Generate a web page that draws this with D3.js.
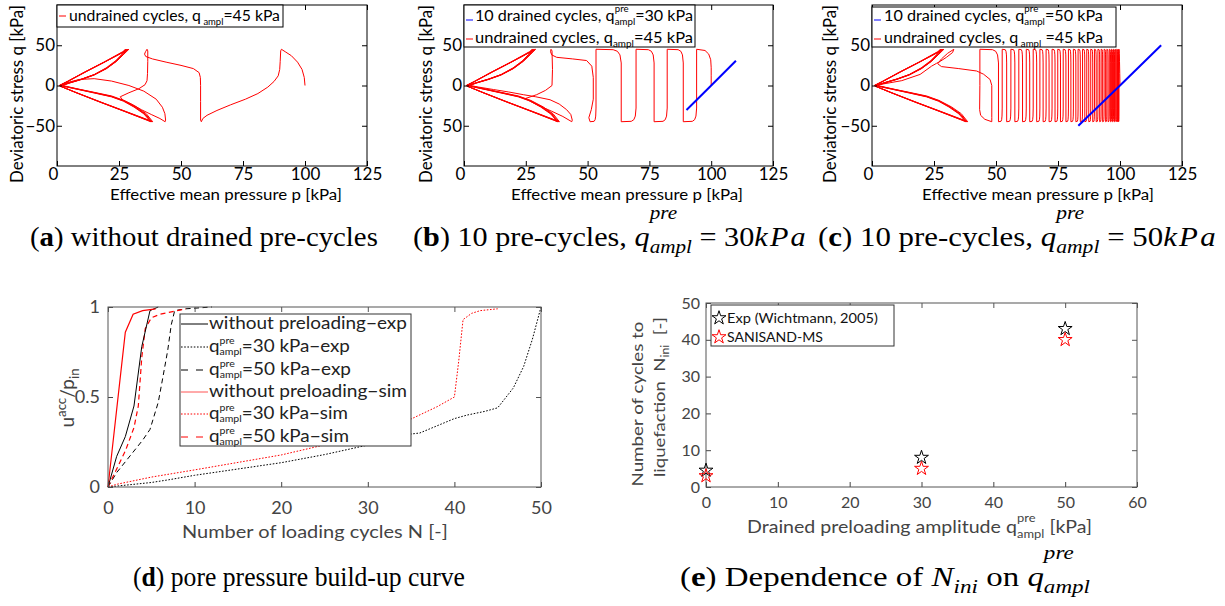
<!DOCTYPE html>
<html><head><meta charset="utf-8">
<script src="https://cdn.jsdelivr.net/npm/d3@7"></script>
<style>body{margin:0;background:#fff}svg{display:block}.serif{font-family:"Liberation Serif","Times New Roman",Times,serif}</style>
</head><body>
<script>
// ================= DATA =================
const pTicks = [0, 25, 50, 75, 100, 125];
const qTicks = [-50, 0, 50];
const qTickLabelsAC = ["\u221250", "0", "50"];
const qTickLabelsB = ["50", "0", "50"];

const pathA = [
  [100,0],[99.7,10],[98.8,20],[97,29],[94.5,37],[92,42],[90.5,45],
  [90.2,43],[90,30],[89.8,20],[89.2,12],[87.5,5],[85,-2],[81,-10],[76,-17],[70,-24],[64.5,-31],[60.5,-37],[58.8,-41],[58.2,-45],
  [57.9,-43],[57.9,-20],[57.9,0],[57.8,10],[57.3,16],[55,21],[50,25],[44,29],[38.5,33],[35.8,36],[35.3,39],[35.7,42],[36.3,45],
  [36.6,43],[36.6,30],[36.5,15],[36.3,6],[35.5,1],[33,-4],[29,-9],[25.5,-14],[26.5,-18],[30,-23],[34,-30],[38,-36],[41.5,-41],[43.6,-45],
  [43.8,-43],[43.5,-35],[42.5,-27],[40,-17],[35,-7],[29,0],[22,5.5],[15,8.5],[9,7.5],[4.5,4],[1.5,0.5]
];
const butterfly = [
  [1.5,0.5],[5,3.5],[10,8],[15,13.5],[20,21.5],[24,30.5],[27,39],[29,45],[27.5,42.5],[20,30.5],[12,17.5],[5,6],[1.5,0.5],
  [8,-4],[15,-8.5],[22,-13],[27,-18.5],[32,-26.5],[36,-35],[38.6,-45],[37,-43],[28,-32.5],[18,-21],[8,-9],[1.5,-1],
  [5,3],[10,7.5],[15,13],[20,21],[24,30],[26.8,38.5],[28.6,45],[27,42],[19.5,29.5],[11.5,17],[4.5,5.5],[1.2,0.3],
  [8,-4.2],[15,-8.8],[22,-13.5],[27,-19],[31.5,-26.5],[35.5,-35],[38.3,-45],[36.7,-43],[27.7,-32.4],[17.7,-20.7],[7.8,-8.9],[1.3,-0.8],
  [5,3.2],[10,7.8],[15,13.2],[20,21.3],[24,30.3],[26.5,38],[28.2,45],[26.8,42],[19.2,29.3],[11.3,16.8],[4.4,5.3],[1.1,0.2],
  [8,-4.4],[15,-9],[22,-13.8],[27,-19.3],[31.2,-26.5],[35.2,-35],[38,-45],[36.4,-43],[27.4,-32.3],[17.4,-20.6],[7.6,-8.8],[1.2,-0.6],
  [5,3.3],[10,7.9],[15,13.4],[20,21.6],[23.8,30.5],[26.2,38],[27.8,45],[26.5,42],[19,29.2],[11.1,16.7],[4.3,5.2],[1,0.1],
  [8,-4.6],[15,-9.3],[22,-14.1],[26.8,-19.5],[31,-26.7],[35,-35.2],[37.8,-45],[36.2,-43],[27.2,-32.2],[17.2,-20.5],[7.5,-8.7],[1.1,-0.5],
  [5,3.4],[10,8],[15,13.6],[19.8,21.8],[23.6,30.6],[26,38.2],[27.5,45]
];
const blueB = [[90,-30.5],[100,0],[110,30.8]];
const startB = [[100,0],[100,12],[100,22],[99.8,32],[99,39],[97.5,43.5],[94.1,45]];
const tipsB = [94.1, 88.7, 82.2, 76.9, 69.6, 63.6, 53.4, 51.0];
const tailB = [
  [51,-45],[50.5,-40],[51.5,-30],[52.3,-17],[52.3,10],[51.7,24],[49.6,31],[44,33],[37.5,35],[35.5,38],[35,42],[35.2,45],
  [35.6,43],[35.8,20],[35.6,0],[33,-6],[29.4,-11.4],[25,-16],[27,-20],[31,-26],[35.5,-32],[40,-38.5],[43.6,-45],
  [43.8,-43],[43.2,-36],[41.5,-30],[38.5,-23],[34.8,-17.7],[29,-14],[24,-11.4],[18,-8],[11.9,-5],[6,-2],[1.5,0.5]
];
const blueC = [[83.2,-50],[100,0],[116.6,50]];
const startC = [[100,0],[99.9,15],[99.8,30],[99.7,40],[99.6,45]];
const tipsC = [99.6, 99.4, 99.2, 99.0, 98.7, 98.4, 98.1, 97.8, 97.4, 97.0, 96.6, 96.2, 95.7, 95.2, 94.7, 94.2,
  93.6, 93.0, 92.4, 91.8, 91.1, 90.4, 89.7, 89.0, 88.2, 87.4, 86.6, 85.8, 84.9, 84.0, 83.1, 82.2, 81.2, 80.2,
  79.2, 78.2, 77.1, 76.0, 74.9, 73.8, 72.6, 71.4, 70.2, 69.0, 67.7, 66.4, 65.0, 63.6, 62.2, 60.7, 59.2, 57.6,
  56.0, 54.3, 52.5, 51.0, 43.5];
const tailC = [
  [43.5,45],[43.5,0],[43.4,-30],[43.8,-37],[45.5,-42],[48.3,-45],
  [48.3,-40],[48.3,0],[47.6,7.5],[45,14],[42.2,18],[35,21],[28,23.5],[26.5,27],[28,33],[30.5,40],[33,45],[32.5,41],[30,35],[27.5,30],[26,27.5],
  [24,24],[19.4,13.8],[12,6],[3.2,1.2],[1.5,0.5]
];
const N_woExp = [0, 1, 2, 3, 3.9, 4.85, 5.8];
const U_woExp = [0, 0.17, 0.28, 0.45, 0.78, 0.98, 1.0];
const N_30Exp = [0, 2, 5, 7, 10, 15, 20, 25, 30, 33, 36, 40, 41.5, 43.5, 45, 46.8, 48, 49, 50];
const U_30Exp = [0, 0.01, 0.025, 0.04, 0.065, 0.1, 0.135, 0.18, 0.233, 0.283, 0.30, 0.38, 0.40, 0.42, 0.44, 0.55, 0.67, 0.82, 1.0];
const N_50Exp = [0, 1, 2, 3, 4, 4.85, 5.8, 6.3, 6.9, 7.3, 7.7, 9, 12];
const U_50Exp = [0, 0.08, 0.14, 0.2, 0.26, 0.32, 0.47, 0.6, 0.76, 0.9, 0.98, 0.99, 1.0];
const N_woSim = [0, 2, 2.9, 4, 5.5];
const U_woSim = [0, 0.86, 0.96, 0.98, 0.99];
const N_30Sim = [0, 1, 3, 5, 10, 20, 30, 34, 38, 40, 40.5, 41, 42, 43, 45];
const U_30Sim = [0, 0.015, 0.035, 0.055, 0.095, 0.178, 0.29, 0.355, 0.446, 0.5, 0.7, 0.93, 0.965, 0.98, 0.99];
const N_50Sim = [0, 1, 2, 3, 3.5, 3.9, 4.3, 5, 6, 8, 9];
const U_50Sim = [0, 0.1, 0.2, 0.33, 0.45, 0.72, 0.88, 0.94, 0.96, 0.98, 0.99];
const dXTicks = [0, 10, 20, 30, 40, 50];
const dYTicks = [0, 0.5, 1];
const qPre = [0, 30, 50];
const NiniExp = [4.5, 8, 43];
const NiniSim = [3, 5, 40];
const eXTicks = [0, 10, 20, 30, 40, 50, 60];
const eYTicks = [0, 10, 20, 30, 40, 50];

// ================= DRAWING =================
const SANS = "Lato, 'Open Sans', sans-serif";
const svg = d3.select("body").append("svg").attr("width", 1225).attr("height", 606);
svg.append("rect").attr("width", 1225).attr("height", 606).attr("fill", "#fff");

function label(parent, x, y, parts, o = {}) {
  const size = o.size || 16, col = o.color || "#000";
  const outer = parent.append("g").attr("transform", `translate(${x},${y})` + (o.rotate ? ` rotate(${o.rotate})` : ""));
  const inner = outer.append("g");
  let cx = 0;
  const mk = (txt, dx, dy, fs, it, b, ls) => {
    const t = inner.append("text").attr("x", dx).attr("y", dy).attr("font-size", fs)
      .attr("fill", col).style("white-space", "pre").text(txt);
    if (o.serif) t.attr("class", "serif"); else t.attr("font-family", SANS);
    if (it) t.attr("font-style", "italic");
    if (b) t.attr("font-weight", "bold");
    if (ls) t.attr("letter-spacing", ls);
    return t.node().getComputedTextLength();
  };
  parts.forEach(p => {
    if (typeof p === "string") p = { t: p };
    if (p.t !== undefined) {
      cx += mk(p.t, cx, p.dy || 0, size * (p.scale || 1), p.it, p.b, p.ls);
    } else {
      const ss = size * (o.scriptScale || 0.66);
      let w = 0;
      if (p.sup !== undefined) w = Math.max(w, mk(p.sup, cx, -size * (o.supRise || 0.42), ss, p.it));
      if (p.sub !== undefined) w = Math.max(w, mk(p.sub, cx, size * (o.subDrop || 0.22), ss, p.it));
      cx += w;
    }
  });
  const a = o.anchor || "start";
  const off = a === "middle" ? cx / 2 : a === "end" ? cx : 0;
  const sx = o.width ? o.width / cx : 1;
  inner.attr("transform", `scale(${sx},1) translate(${-off},0)`);
  return cx * sx;
}

function meander(tips) {
  const pts = [];
  for (let k = 0; k < tips.length; k++) {
    const s = k % 2 === 0 ? 1 : -1;
    pts.push([tips[k], 45 * s]);
    if (k < tips.length - 1) {
      const d = tips[k] - tips[k + 1];
      pts.push([tips[k], -28 * s]);
      pts.push([tips[k] - 0.05 * d, -38 * s]);
      pts.push([tips[k] - 0.15 * d, -42.5 * s]);
      pts.push([tips[k] - 0.32 * d, -44.5 * s]);
    }
  }
  return pts;
}

function styleAxis(g, col, fs) {
  g.selectAll("path.domain").remove();
  g.selectAll("line").attr("stroke", col);
  g.selectAll("text").attr("font-family", SANS).attr("font-size", fs).attr("fill", col);
}

function boxAxes(g, x, y, o) {
  const [x0, x1] = x.range(), [y0, y1] = y.range();
  const col = o.col, fs = o.fs;
  const b = g.append("g").attr("transform", `translate(0,${y0})`)
    .call(d3.axisBottom(x).tickValues(o.xt).tickSize(-5).tickSizeOuter(0).tickPadding(o.xpad).tickFormat(o.xf || (d => d)));
  styleAxis(b, o.tcol || col, fs);
  if (o.zeroShift) b.selectAll(".tick text").filter(d => d === 0).attr("dx", o.zeroShift);
  const t = g.append("g").attr("transform", `translate(0,${y1})`)
    .call(d3.axisTop(x).tickValues(o.xt).tickSize(-5).tickSizeOuter(0).tickFormat(""));
  styleAxis(t, col, fs);
  const l = g.append("g").attr("transform", `translate(${x0},0)`)
    .call(d3.axisLeft(y).tickValues(o.yt).tickSize(-5).tickSizeOuter(0).tickPadding(o.ypad).tickFormat(o.yf || (d => d)));
  styleAxis(l, o.tcol || col, fs);
  const r = g.append("g").attr("transform", `translate(${x1},0)`)
    .call(d3.axisRight(y).tickValues(o.yt).tickSize(-5).tickSizeOuter(0).tickFormat(""));
  styleAxis(r, col, fs);
  g.append("rect").attr("x", x0).attr("y", y1).attr("width", x1 - x0).attr("height", y0 - y1)
    .attr("fill", "none").attr("stroke", col).attr("stroke-width", 1);
}

function stressPanel(o) {
  const g = svg.append("g");
  const x = d3.scaleLinear([0, 125], [o.left, o.right]);
  const y = d3.scaleLinear([-100, 100], [166, 5]);
  const line = d3.line().x(d => x(d[0])).y(d => y(d[1]));
  o.series.forEach(s => g.append("path").attr("d", line(s.pts)).attr("fill", "none")
    .attr("stroke", s.color).attr("stroke-width", s.w || 1).attr("stroke-linejoin", "round"));
  boxAxes(g, x, y, { xt: pTicks, yt: qTicks, col: "#000", fs: 17, xpad: 2, ypad: 2, zeroShift: -4,
    yf: (d, i) => o.qLabels[i] });
  const L = o.legend;
  g.append("rect").attr("x", L.x0).attr("y", L.y0).attr("width", L.x1 - L.x0).attr("height", L.y1 - L.y0)
    .attr("fill", "#fff").attr("stroke", "#000").attr("stroke-width", 1);
  L.items.forEach(it => {
    g.append("line").attr("x1", L.x0 + 2).attr("x2", L.x0 + 9).attr("y1", it.ly).attr("y2", it.ly)
      .attr("stroke", it.color).attr("stroke-width", 1);
    label(g, it.tx, it.by, it.parts, { size: 16, width: it.w, supRise: 0.55, subDrop: 0.22, scriptScale: 0.6 });
  });
  label(g, o.xtitle, 200, ["Effective mean pressure p [kPa]"], { size: 16, anchor: "middle", width: 232 });
  label(g, o.ytitleX, 94, ["Deviatoric stress q [kPa]"], { size: 17, anchor: "middle", width: 178, rotate: -90 });
}

stressPanel({
  left: 57, right: 367, qLabels: qTickLabelsAC,
  series: [{ pts: pathA.concat(butterfly), color: "#ff0000" }],
  legend: { x0: 57, x1: 283, y0: 5, y1: 27, items: [
    { color: "#ff0000", ly: 16, tx: 69, by: 21, w: 211, parts: ["undrained cycles, q", { sub: " ampl" }, "=45 kPa"] }] },
  xtitle: 226, ytitleX: 23
});
stressPanel({
  left: 464, right: 773, qLabels: qTickLabelsB,
  series: [{ pts: startB.concat(meander(tipsB)).concat(tailB).concat(butterfly), color: "#ff0000" },
           { pts: blueB, color: "#0000ff", w: 2 }],
  legend: { x0: 464, x1: 695, y0: 5, y1: 47, items: [
    { color: "#0000ff", ly: 20, tx: 475, by: 21, w: 218, parts: ["10 drained cycles, q", { sup: "pre", sub: "ampl" }, "=30 kPa"] },
    { color: "#ff0000", ly: 39, tx: 475, by: 43, w: 218, parts: ["undrained cycles, q", { sub: "ampl" }, "=45 kPa"] }] },
  xtitle: 627, ytitleX: 432
});
stressPanel({
  left: 872, right: 1182, qLabels: qTickLabelsAC,
  series: [{ pts: startC.concat(meander(tipsC)).concat(tailC).concat(butterfly), color: "#ff0000" },
           { pts: blueC, color: "#0000ff", w: 2 }],
  legend: { x0: 872, x1: 1116, y0: 7, y1: 47, items: [
    { color: "#0000ff", ly: 20, tx: 884, by: 21, w: 219, parts: ["10 drained cycles, q", { sup: "pre", sub: "ampl" }, "=50 kPa"] },
    { color: "#ff0000", ly: 39, tx: 884, by: 43, w: 219, parts: ["undrained cycles, q", { sub: " ampl" }, " =45 kPa"] }] },
  xtitle: 1038, ytitleX: 836
});

// ---------- panel (d) ----------
(function () {
  const g = svg.append("g");
  const x = d3.scaleLinear([0, 50], [108, 541]);
  const y = d3.scaleLinear([0, 1], [487, 307]);
  const line = d3.line().x(d => x(d[0])).y(d => y(d[1]));
  const zip = (a, b) => a.map((v, i) => [v, b[i]]);
  const series = [
    { N: N_30Exp, U: U_30Exp, c: "#000", dash: "1.6,1.6", w: 1 },
    { N: N_30Sim, U: U_30Sim, c: "#ff0000", dash: "1.6,1.6", w: 1 },
    { N: N_50Exp, U: U_50Exp, c: "#000", dash: "5,3.5", w: 1 },
    { N: N_50Sim, U: U_50Sim, c: "#ff0000", dash: "5,3.5", w: 1.2 },
    { N: N_woExp, U: U_woExp, c: "#000", dash: null, w: 1 },
    { N: N_woSim, U: U_woSim, c: "#ff0000", dash: null, w: 1.2 }
  ];
  series.forEach(s => g.append("path").attr("d", line(zip(s.N, s.U))).attr("fill", "none")
    .attr("stroke", s.c).attr("stroke-width", s.w).attr("stroke-dasharray", s.dash));
  boxAxes(g, x, y, { xt: dXTicks, yt: dYTicks, col: "#555", tcol: "#444", fs: 18, xpad: 14, ypad: 8 });
  label(g, 74, 398, ["u", { sup: "acc" }, "/p", { sub: "in" }], { size: 19, anchor: "middle", rotate: -90, color: "#444", supRise: 0.42, subDrop: 0.25, scriptScale: 0.7 });
  g.append("rect").attr("x", 180).attr("y", 314).attr("width", 231).attr("height", 132)
    .attr("fill", "#fff").attr("stroke", "#333").attr("stroke-width", 1);
  const items = [
    { c: "#000", dash: null, by: 329, w: 198, parts: ["without preloading\u2212exp"] },
    { c: "#000", dash: "1.6,1.6", by: 352, w: 141, parts: ["q", { sup: "pre", sub: "ampl" }, "=30 kPa\u2212exp"] },
    { c: "#000", dash: "7,8", by: 375, w: 142, parts: ["q", { sup: "pre", sub: "ampl" }, "=50 kPa\u2212exp"] },
    { c: "#ff5555", dash: null, by: 397, w: 198, parts: ["without preloading\u2212sim"] },
    { c: "#ff0000", dash: "1.6,1.6", by: 419, w: 139, parts: ["q", { sup: "pre", sub: "ampl" }, "=30 kPa\u2212sim"] },
    { c: "#ff0000", dash: "7,8", by: 442, w: 140, parts: ["q", { sup: "pre", sub: "ampl" }, "=50 kPa\u2212sim"] }
  ];
  items.forEach(it => {
    g.append("line").attr("x1", 181).attr("x2", 208).attr("y1", it.by - 5).attr("y2", it.by - 5)
      .attr("stroke", it.c).attr("stroke-width", 1).attr("stroke-dasharray", it.dash);
    label(g, 209, it.by, it.parts, { size: 17, width: it.w, color: "#222", supRise: 0.5, subDrop: 0.18, scriptScale: 0.56 });
  });
  label(g, 315, 538, ["Number of loading cycles N [-]"], { size: 18, anchor: "middle", width: 266, color: "#444" });
})();

// ---------- panel (e) ----------
(function () {
  const g = svg.append("g");
  const x = d3.scaleLinear([0, 60], [706, 1137]);
  const y = d3.scaleLinear([0, 50], [487, 303]);
  boxAxes(g, x, y, { xt: eXTicks, yt: eYTicks, col: "#555", tcol: "#444", fs: 16, xpad: 10, ypad: 6 });
  const star = d3.symbol(d3.symbolStar, 60);
  const plot = (X, Y, c) => g.selectAll(null).data(X).enter().append("path").attr("d", star)
    .attr("transform", (d, i) => `translate(${x(d)},${y(Y[i])})`).attr("fill", "none").attr("stroke", c).attr("stroke-width", 1);
  plot(qPre, NiniExp, "#000");
  plot(qPre, NiniSim, "#ff0000");
  g.append("rect").attr("x", 711).attr("y", 305).attr("width", 183).attr("height", 41)
    .attr("fill", "#fff").attr("stroke", "#333").attr("stroke-width", 1);
  g.append("path").attr("d", star).attr("transform", "translate(719,318)").attr("fill", "none").attr("stroke", "#000");
  g.append("path").attr("d", star).attr("transform", "translate(719,337)").attr("fill", "none").attr("stroke", "#ff0000");
  label(g, 727, 323, ["Exp (Wichtmann, 2005)"], { size: 14, width: 151, color: "#111" });
  label(g, 727, 342, ["SANISAND-MS"], { size: 14, width: 96, color: "#111" });
  label(g, 747, 533, ["Drained preloading amplitude q", { sup: "pre", sub: "ampl" }, " [kPa]"],
    { size: 18, color: "#444", width: 345, supRise: 0.6, subDrop: 0.3, scriptScale: 0.66 });
  label(g, 643, 404, ["Number of cycles to"], { size: 16, anchor: "middle", rotate: -90, color: "#444", width: 165 });
  label(g, 665, 397, ["liquefaction  N", { sub: "ini" }, "  [-]"], { size: 16, anchor: "middle", rotate: -90, color: "#444", width: 160 });
})();

// ---------- captions ----------
const capO = { serif: true, size: 27, supRise: 1.0, subDrop: 0.26, scriptScale: 0.7 };
label(svg, 30, 246, ["(", { t: "a", b: true }, ") without drained pre-cycles"], Object.assign({ width: 348 }, capO));
label(svg, 413, 246, ["(", { t: "b", b: true }, ") 10 pre-cycles, ", { t: "q", it: true }, { sup: "pre", sub: "ampl", it: true },
  " = 30", { t: "kPa", it: true, ls: 2 }], Object.assign({ width: 395 }, capO));
label(svg, 818, 246, ["(", { t: "c", b: true }, ") 10 pre-cycles, ", { t: "q", it: true }, { sup: "pre", sub: "ampl", it: true },
  " = 50", { t: "kPa", it: true, ls: 2 }], Object.assign({ width: 400 }, capO));
label(svg, 133, 586, ["(", { t: "d", b: true }, ") pore pressure build-up curve"], Object.assign({ width: 332 }, capO));
label(svg, 680, 586, ["(", { t: "e", b: true }, ") Dependence of ", { t: "N", it: true }, { sub: "ini", it: true }, " on ",
  { t: "q", it: true }, { sup: "pre", sub: "ampl", it: true }], Object.assign({ width: 410 }, capO));
</script>
</body></html>
